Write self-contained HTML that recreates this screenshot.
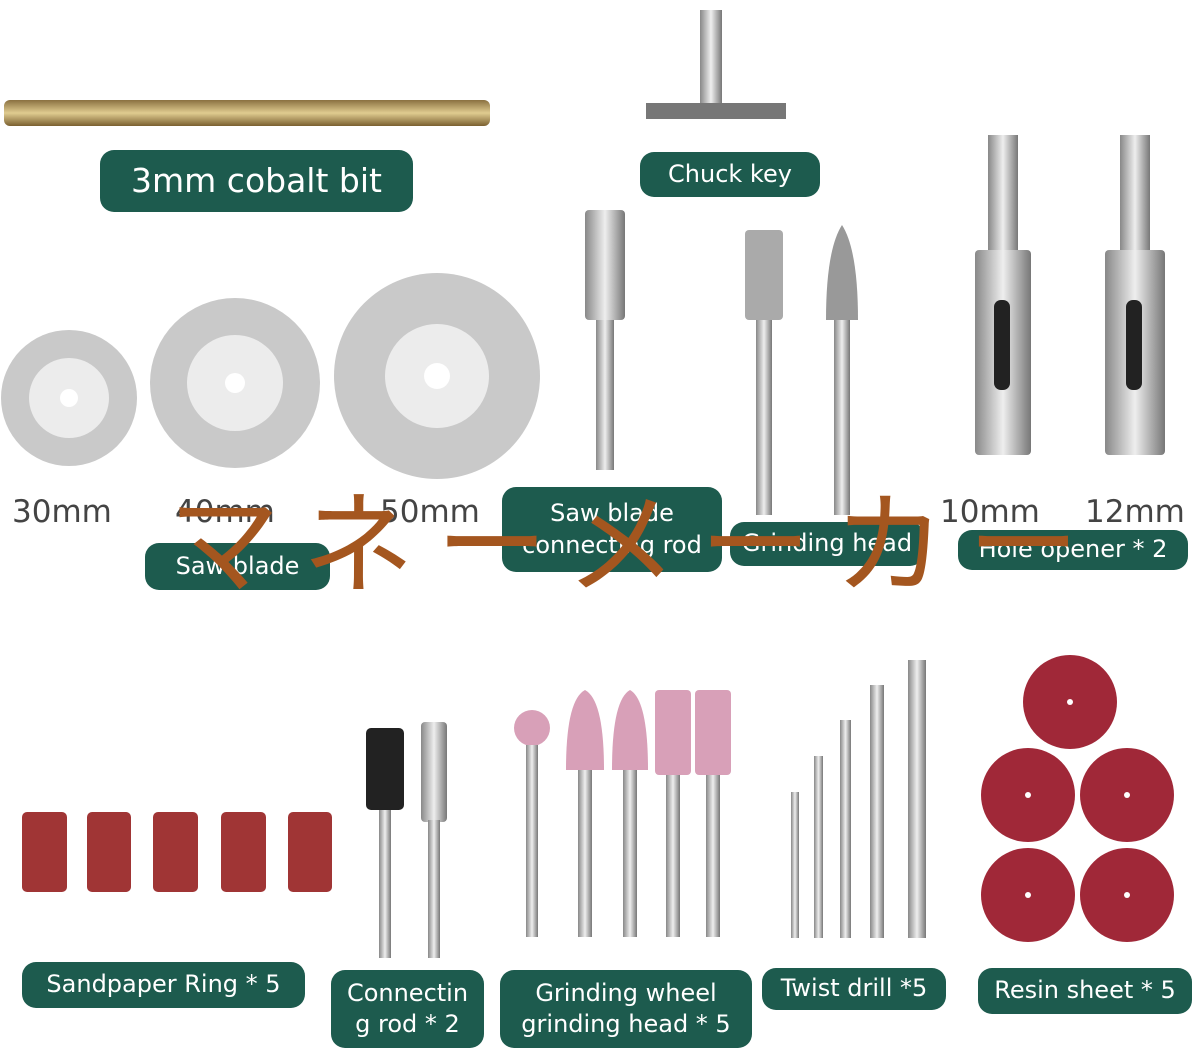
<!DOCTYPE html>
<html><head><meta charset="utf-8"><style>
body{margin:0;width:1200px;height:1054px;background:#fff;position:relative;overflow:hidden;font-family:"DejaVu Sans","Noto Sans CJK JP",sans-serif}
.l{position:absolute;background:#1d5b4e;color:#fff;border-radius:14px;text-align:center;display:flex;align-items:center;justify-content:center;line-height:1.3}
.t{position:absolute;color:#444;font-size:31px}
.wm{position:absolute;left:168px;top:455px;font-size:112px;color:#a4561f;letter-spacing:22px;white-space:nowrap;font-family:"Noto Sans CJK JP",sans-serif}
</style></head><body>
<svg width="1200" height="1054" style="position:absolute;left:0;top:0">
<defs><linearGradient id="m" x1="0" x2="1"><stop offset="0" stop-color="#888"/><stop offset=".5" stop-color="#eee"/><stop offset="1" stop-color="#777"/></linearGradient>
<linearGradient id="g" x1="0" y1="0" x2="0" y2="1"><stop offset="0" stop-color="#8a7040"/><stop offset=".5" stop-color="#e0cc90"/><stop offset="1" stop-color="#7a6030"/></linearGradient></defs>
<rect x="4" y="100" width="486" height="26" fill="url(#g)" rx="6"/>
<rect x="700" y="10" width="22" height="95" fill="url(#m)"/><rect x="646" y="103" width="140" height="16" fill="#777"/>
<circle cx="69" cy="398" r="68" fill="#c9c9c9"/><circle cx="69" cy="398" r="40" fill="#ececec"/><circle cx="69" cy="398" r="9" fill="#fff"/>
<circle cx="235" cy="383" r="85" fill="#c9c9c9"/><circle cx="235" cy="383" r="48" fill="#ececec"/><circle cx="235" cy="383" r="10" fill="#fff"/>
<circle cx="437" cy="376" r="103" fill="#c9c9c9"/><circle cx="437" cy="376" r="52" fill="#ececec"/><circle cx="437" cy="376" r="13" fill="#fff"/>
<rect x="585" y="210" width="40" height="110" fill="url(#m)" rx="4"/><rect x="596" y="320" width="18" height="150" fill="url(#m)"/>
<rect x="745" y="230" width="38" height="90" fill="#aaa" rx="4"/><rect x="756" y="320" width="16" height="195" fill="url(#m)"/>
<path d="M826 320 Q826 250 842 225 Q858 250 858 320Z" fill="#999"/><rect x="834" y="320" width="16" height="195" fill="url(#m)"/>
<rect x="988" y="135" width="30" height="120" fill="url(#m)"/><rect x="975" y="250" width="56" height="205" fill="url(#m)" rx="4"/><rect x="994" y="300" width="16" height="90" fill="#222" rx="7"/>
<rect x="1120" y="135" width="30" height="120" fill="url(#m)"/><rect x="1105" y="250" width="60" height="205" fill="url(#m)" rx="4"/><rect x="1126" y="300" width="16" height="90" fill="#222" rx="7"/>
<g fill="#a03535"><rect x="22" y="812" width="45" height="80" rx="5"/><rect x="87" y="812" width="44" height="80" rx="5"/><rect x="153" y="812" width="45" height="80" rx="5"/><rect x="221" y="812" width="45" height="80" rx="5"/><rect x="288" y="812" width="44" height="80" rx="5"/></g>
<rect x="366" y="728" width="38" height="82" fill="#222" rx="5"/><rect x="379" y="810" width="12" height="148" fill="url(#m)"/>
<rect x="421" y="722" width="26" height="100" fill="url(#m)" rx="4"/><rect x="428" y="820" width="12" height="138" fill="url(#m)"/>
<g fill="#d8a0b8"><circle cx="532" cy="728" r="18"/><path d="M566 770 Q566 700 585 690 Q604 700 604 770Z"/><path d="M612 770 Q612 700 630 690 Q648 700 648 770Z"/><rect x="655" y="690" width="36" height="85" rx="4"/><rect x="695" y="690" width="36" height="85" rx="4"/></g>
<g fill="url(#m)"><rect x="526" y="745" width="12" height="192"/><rect x="578" y="770" width="14" height="167"/><rect x="623" y="770" width="14" height="167"/><rect x="666" y="775" width="14" height="162"/><rect x="706" y="775" width="14" height="162"/>
<rect x="791" y="792" width="8" height="146"/><rect x="814" y="756" width="9" height="182"/><rect x="840" y="720" width="11" height="218"/><rect x="870" y="685" width="14" height="253"/><rect x="908" y="660" width="18" height="278"/></g>
<g fill="#a02838"><circle cx="1070" cy="702" r="47"/><circle cx="1028" cy="795" r="47"/><circle cx="1127" cy="795" r="47"/><circle cx="1028" cy="895" r="47"/><circle cx="1127" cy="895" r="47"/></g>
<g fill="#fff"><circle cx="1070" cy="702" r="3"/><circle cx="1028" cy="795" r="3"/><circle cx="1127" cy="795" r="3"/><circle cx="1028" cy="895" r="3"/><circle cx="1127" cy="895" r="3"/></g>
</svg>
<div class="t" style="left:12px;top:494px">30mm</div>
<div class="t" style="left:175px;top:494px">40mm</div>
<div class="t" style="left:380px;top:494px">50mm</div>
<div class="t" style="left:940px;top:494px">10mm</div>
<div class="t" style="left:1085px;top:494px">12mm</div>
<div class="l" style="left:100px;top:150px;width:313px;height:62px;font-size:33px">3mm cobalt bit</div>
<div class="l" style="left:640px;top:152px;width:180px;height:45px;font-size:24px">Chuck key</div>
<div class="l" style="left:145px;top:543px;width:185px;height:47px;font-size:24px">Saw blade</div>
<div class="l" style="left:502px;top:487px;width:220px;height:85px;font-size:24px">Saw blade<br>connecting rod</div>
<div class="l" style="left:730px;top:522px;width:194px;height:44px;font-size:24px">Grinding head</div>
<div class="l" style="left:958px;top:530px;width:230px;height:40px;font-size:24px">Hole opener * 2</div>
<div class="wm">マネーメーカー</div>
<div class="l" style="left:22px;top:962px;width:283px;height:46px;font-size:24px">Sandpaper Ring * 5</div>
<div class="l" style="left:331px;top:970px;width:153px;height:78px;font-size:24px">Connectin<br>g rod * 2</div>
<div class="l" style="left:500px;top:970px;width:252px;height:78px;font-size:24px">Grinding wheel<br>grinding head * 5</div>
<div class="l" style="left:762px;top:968px;width:184px;height:42px;font-size:24px">Twist drill *5</div>
<div class="l" style="left:978px;top:968px;width:214px;height:46px;font-size:24px">Resin sheet * 5</div>
</body></html>
